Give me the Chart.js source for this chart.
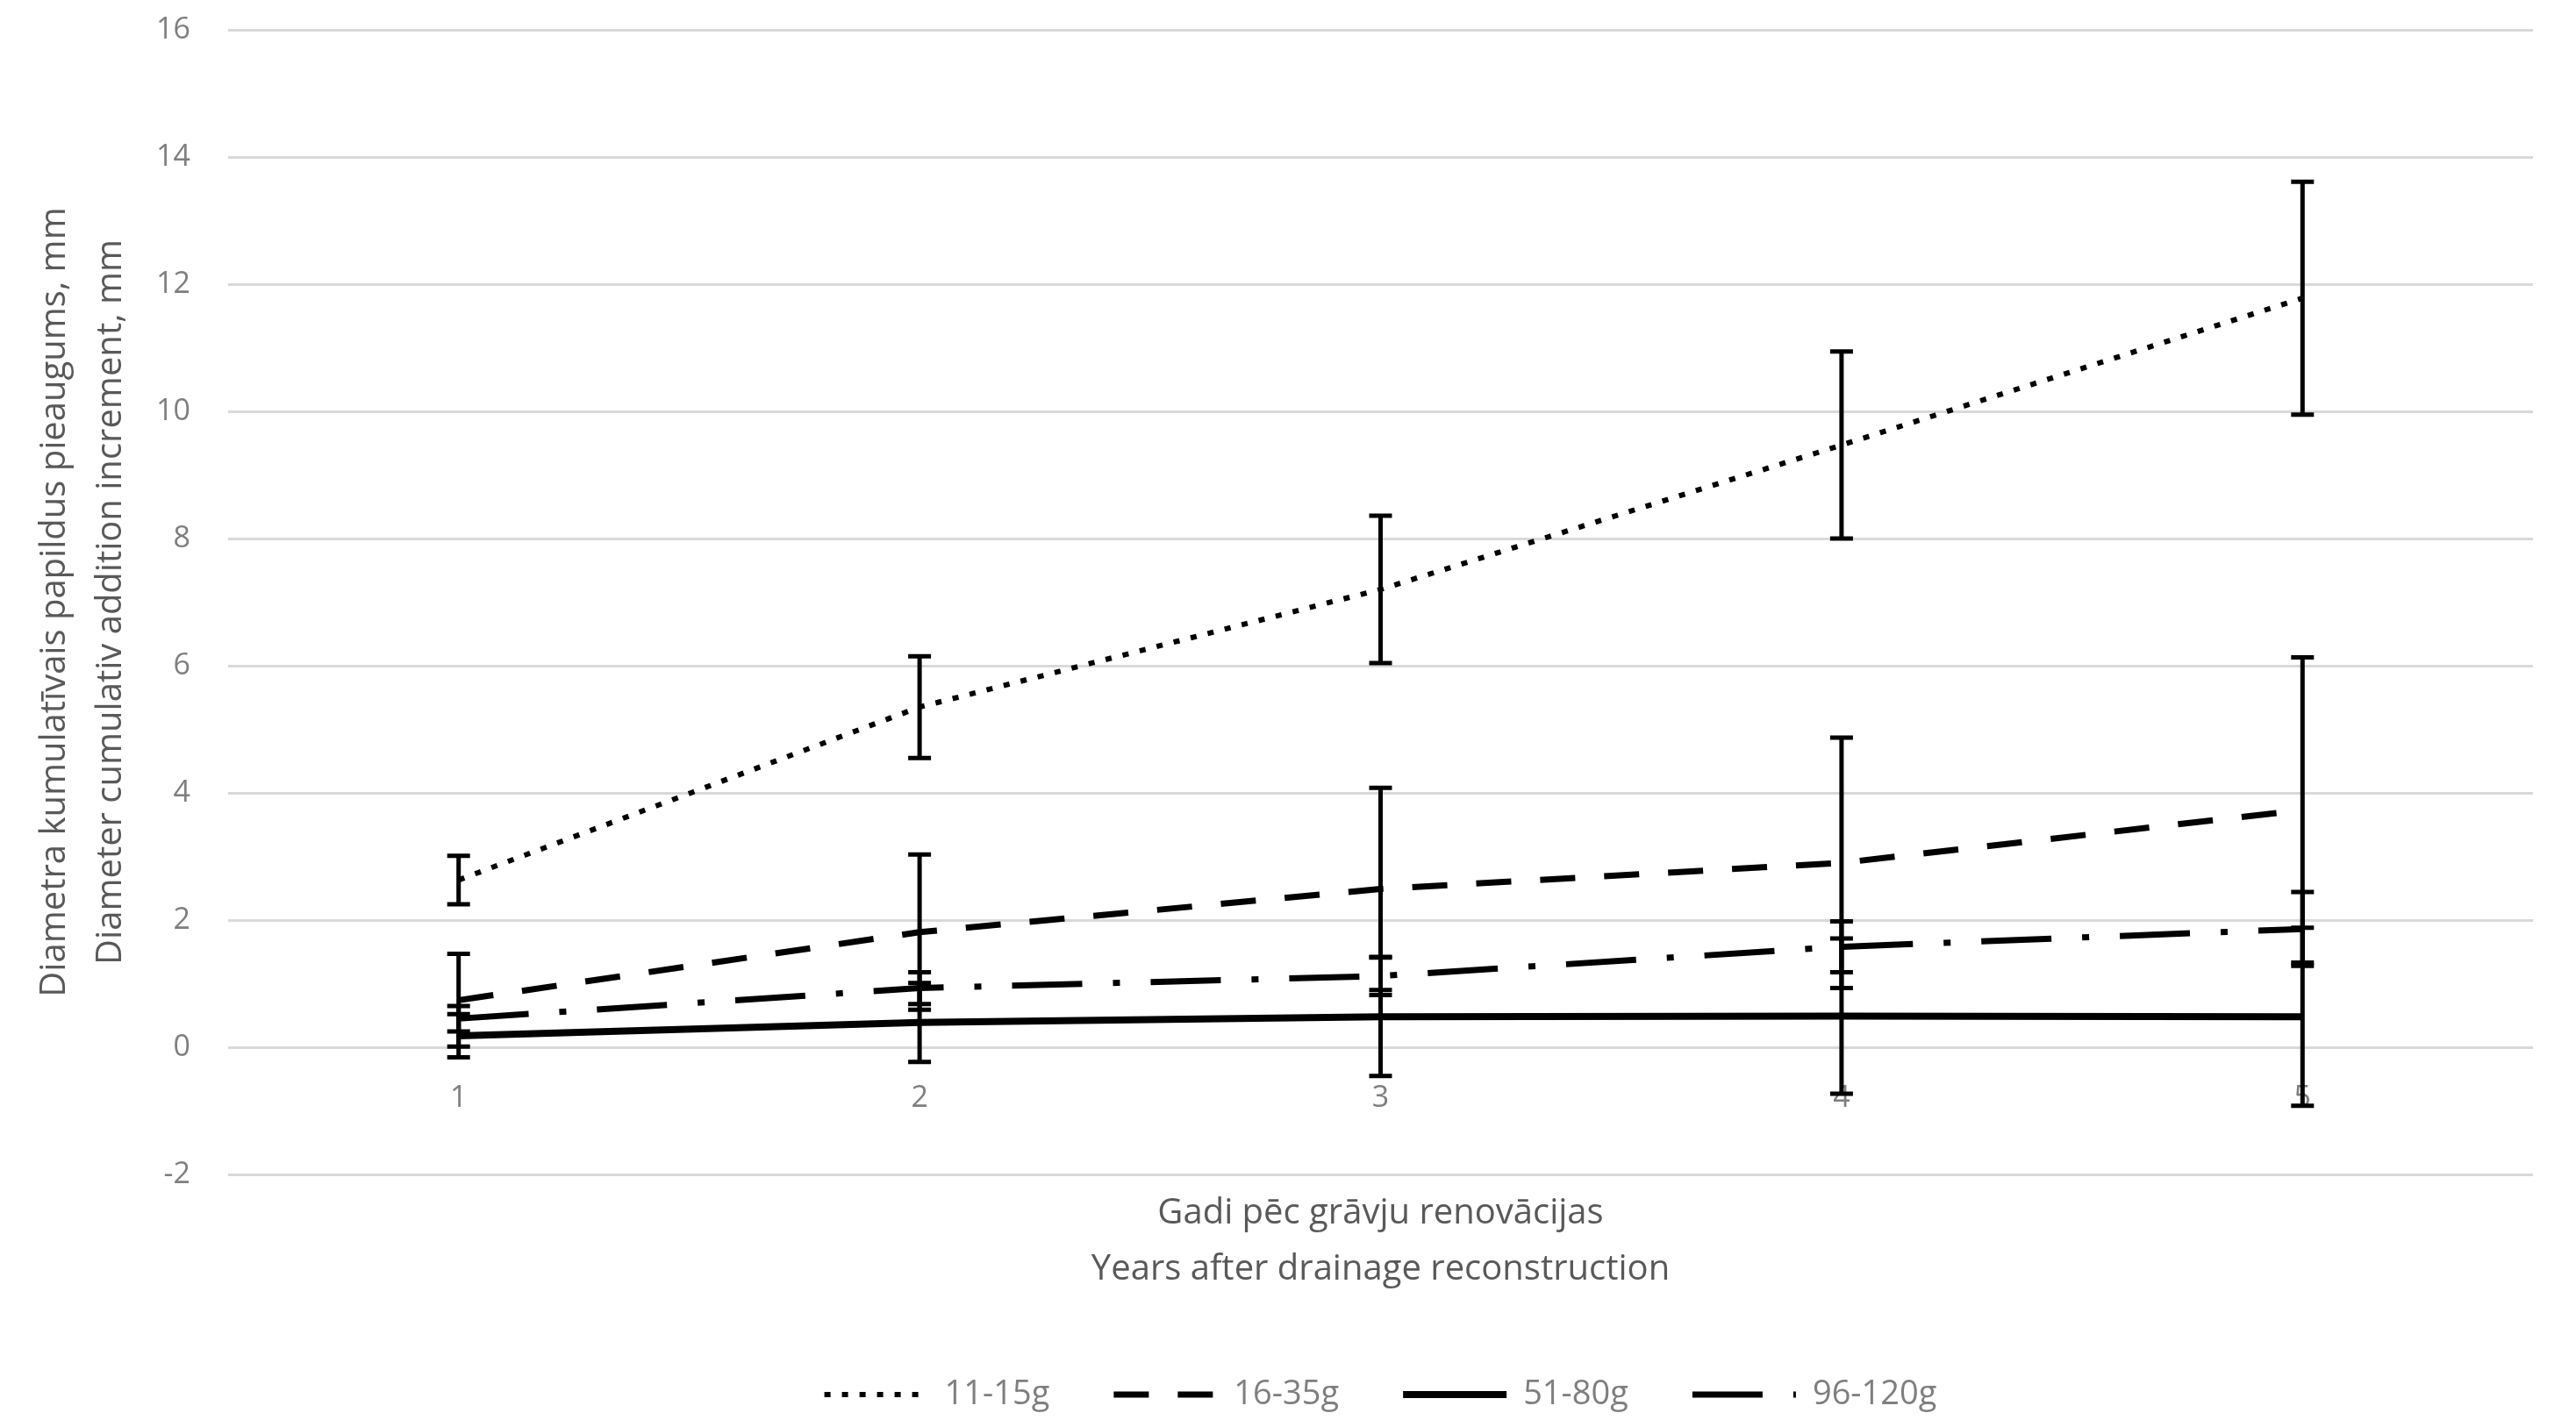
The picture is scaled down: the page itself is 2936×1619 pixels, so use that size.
<!DOCTYPE html>
<html>
    <head>
        <title>Diametra pieaugums</title>
        <script src="https://cdn.jsdelivr.net/npm/chart.js@4.4.1/dist/chart.umd.min.js"></script>
        <style>
          body { margin: 0; background: #ffffff; }
          #wrap { width: 2936px; height: 1619px; position: relative; }
        </style>
    </head>

    <body>
        <div id="wrap">
          <canvas id="myChart"></canvas>
        </div>

        <script>
          // data
          var years = ["1", "2", "3", "4", "5"];
          var seriesNames = ["11-15g", "16-35g", "51-80g", "96-120g"];

          var g1115 = [2.63, 5.35, 7.2, 9.47, 11.78];
          var g1635 = [0.74, 1.81, 2.49, 2.9, 3.73];
          var g5180 = [0.18, 0.39, 0.48, 0.49, 0.48];
          var g96120 = [0.45, 0.93, 1.12, 1.58, 1.86];

          // +/- error bars
          var err1115 = [0.38, 0.8, 1.16, 1.47, 1.83];
          var err1635 = [0.73, 1.22, 1.59, 1.97, 2.4];
          var err5180 = [0.34, 0.62, 0.93, 1.22, 1.4];
          var err96120 = [0.2, 0.25, 0.3, 0.4, 0.58];

          var yTicks = [-2, 0, 2, 4, 6, 8, 10, 12, 14, 16];

          var xTitle = ["Gadi pēc grāvju renovācijas", "Years after drainage reconstruction"];
          var yTitle = ["Diametra kumulatīvais papildus pieaugums, mm", "Diameter cumulativ addition increment, mm"];

          var errors = [err1115, err1635, err5180, err96120];

          // draws the vertical error bars with caps
          var errorBars = {
            id: "errorBars",
            afterDatasetsDraw: function(chart) {
              var ctx = chart.ctx;
              var xs = chart.scales.x;
              var ys = chart.scales.y;
              ctx.save();
              ctx.strokeStyle = "#000000";
              ctx.lineCap = "butt";
              chart.data.datasets.forEach(function(ds, d) {
                ds.data.forEach(function(v, i) {
                  var e = errors[d][i];
                  var x = xs.getPixelForValue(i);
                  var top = ys.getPixelForValue(v + e);
                  var bot = ys.getPixelForValue(v - e);
                  ctx.lineWidth = 5;
                  ctx.setLineDash([]);
                  ctx.beginPath();
                  ctx.moveTo(x, top);
                  ctx.lineTo(x, bot);
                  ctx.moveTo(x - 13, top);
                  ctx.lineTo(x + 13, top);
                  ctx.moveTo(x - 13, bot);
                  ctx.lineTo(x + 13, bot);
                  ctx.stroke();
                });
              });
              ctx.restore();
            }
          };

          function makeSet(label, values, width, dash) {
            return {
              label: label,
              data: values,
              borderColor: "#000000",
              backgroundColor: "#000000",
              borderWidth: width,
              borderDash: dash,
              borderCapStyle: "butt",
              pointRadius: 0,
              pointStyle: "line",
              tension: 0,
              fill: false
            };
          }

          // legend samples: keep the dash pattern and width of each line
          function legendLabels(chart) {
            var items = Chart.defaults.plugins.legend.labels.generateLabels(chart);
            items.forEach(function(item) {
              var ds = chart.data.datasets[item.datasetIndex];
              item.lineDash = ds.borderDash;
              item.lineWidth = ds.borderWidth;
              item.lineCap = "butt";
              item.strokeStyle = "#000000";
              item.fontColor = "#7f7f7f";
            });
            return items;
          }

          var ctx = document.getElementById("myChart").getContext("2d");
          var chart = new Chart(ctx, {
            type: "line",
            data: {
              labels: years,
              datasets: [
                makeSet(seriesNames[0], g1115, 6, [7, 13]),
                makeSet(seriesNames[1], g1635, 7, [40, 33]),
                makeSet(seriesNames[2], g5180, 8, []),
                makeSet(seriesNames[3], g96120, 7, [80, 35, 8, 35])
              ]
            },
            options: {
              responsive: true,
              maintainAspectRatio: false,
              animation: false,
              devicePixelRatio: 1,
              layout: {
                padding: { top: 34, right: 49, bottom: 0, left: 31 }
              },
              scales: {
                x: {
                  position: { y: 0 },
                  offset: true,
                  grid: { display: false, drawTicks: false },
                  border: { display: false },
                  ticks: {
                    padding: 38,
                    color: "#7f7f7f",
                    font: { family: "Open Sans", size: 34 }
                  }
                },
                y: {
                  min: -2,
                  max: 16,
                  afterBuildTicks: function(scale) {
                    scale.ticks = yTicks.map(function(v) { return { value: v }; });
                  },
                  afterFit: function(scale) {
                    scale.width = 229;
                  },
                  grid: {
                    color: "#d9d9d9",
                    lineWidth: 3,
                    drawTicks: true,
                    tickLength: 40,
                    tickColor: "rgba(0,0,0,0)"
                  },
                  border: { display: false },
                  ticks: {
                    padding: 3,
                    color: "#7f7f7f",
                    font: { family: "Open Sans", size: 34 }
                  },
                  title: {
                    display: true,
                    text: yTitle,
                    color: "#595959",
                    padding: { top: 0, bottom: 19 },
                    font: { family: "Open Sans", size: 40, lineHeight: 1.6 }
                  }
                }
              },
              plugins: {
                title: {
                  display: true,
                  position: "bottom",
                  fullSize: false,
                  weight: 500,
                  text: xTitle,
                  color: "#595959",
                  padding: { top: 13, bottom: 18 },
                  font: { family: "Open Sans", size: 40, weight: "normal", lineHeight: 1.6 }
                },
                legend: {
                  position: "bottom",
                  fullSize: false,
                  labels: {
                    usePointStyle: true,
                    pointStyle: "line",
                    pointStyleWidth: 118,
                    padding: 73,
                    color: "#7f7f7f",
                    font: { family: "Open Sans", size: 38 },
                    generateLabels: legendLabels
                  }
                },
                tooltip: { enabled: false }
              }
            },
            plugins: [errorBars]
          });
        </script>
    </body>
</html>
